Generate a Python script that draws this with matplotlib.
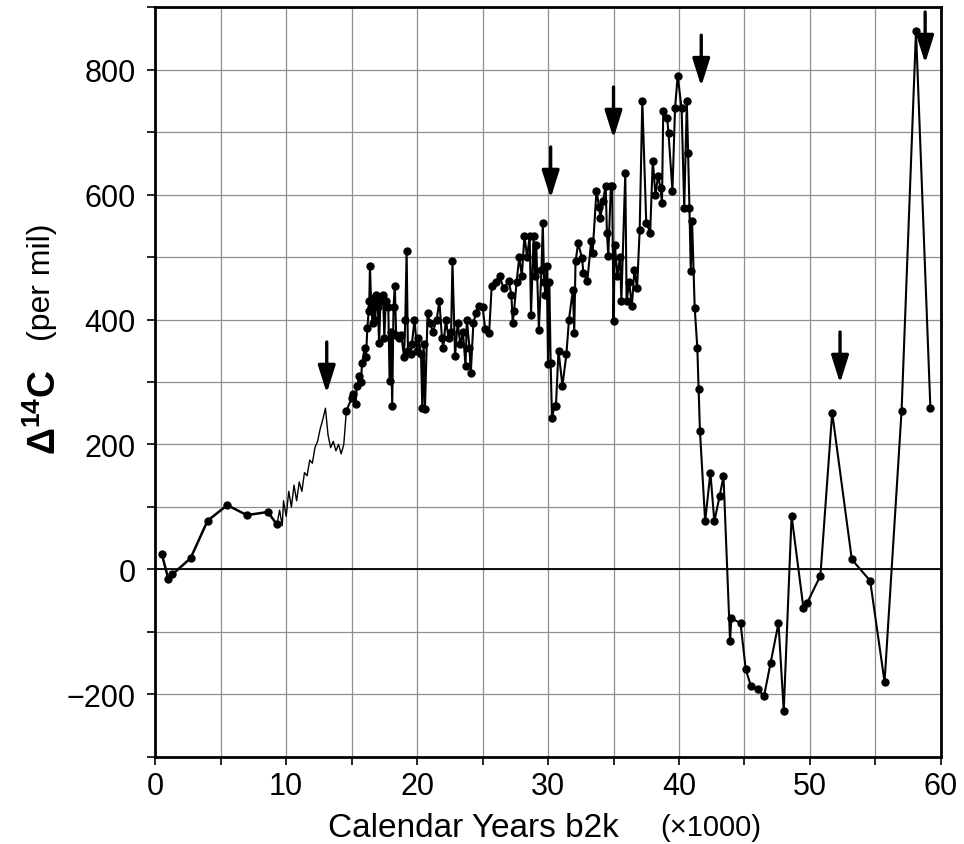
import matplotlib
matplotlib.use("Agg")
import matplotlib.pyplot as plt
from matplotlib.ticker import MultipleLocator

plt.rcParams['font.family'] = ['Liberation Sans', 'DejaVu Sans']
plt.rcParams['mathtext.fontset'] = 'custom'
plt.rcParams['mathtext.rm'] = 'Liberation Sans'
plt.rcParams['mathtext.bf'] = 'Liberation Sans:bold'

# holocene part, dots (x in kyr b2k, delta14C in per mil)
holo_age = [0.5, 1.0, 1.3, 2.7, 4.0, 5.5, 7.0, 8.6, 9.3]
holo_d14c = [25, -15, -8, 18, 78, 103, 87, 92, 72]

# tree-ring style thin curve, no markers
ring_age = [9.3, 9.5, 9.7, 9.8, 10.0, 10.2, 10.4, 10.6, 10.8, 11.0, 11.2, 11.4,
            11.6, 11.8, 12.0, 12.2, 12.4, 12.6, 12.8, 13.0, 13.2, 13.4, 13.6,
            13.8, 14.0, 14.2, 14.4, 14.6]
ring_d14c = [72, 95, 70, 110, 85, 125, 100, 135, 110, 140, 125, 155, 150, 175,
             170, 195, 205, 225, 240, 258, 215, 195, 205, 190, 200, 185, 200, 254]

# glacial part, dots
glac_age = [14.6, 15.0, 15.1, 15.3, 15.4, 15.6, 15.7, 15.8, 16.0, 16.1, 16.2,
            16.3, 16.35, 16.4, 16.5, 16.6, 16.7, 16.8, 16.9, 17.0, 17.1, 17.2,
            17.4, 17.5, 17.6, 17.8, 17.9, 18.0, 18.1, 18.2, 18.3, 18.4, 18.6,
            18.8, 19.0, 19.1, 19.2, 19.3, 19.5, 19.6, 19.8, 20.0, 20.1, 20.3,
            20.4, 20.5, 20.6, 20.8, 21.0, 21.2, 21.5, 21.7, 21.9, 22.0, 22.2,
            22.4, 22.6, 22.7, 22.9, 23.1, 23.3, 23.5, 23.7, 23.8, 24.0, 24.1,
            24.3, 24.5, 24.7, 25.0, 25.2, 25.5, 25.7, 26.0, 26.3, 26.6, 27.0,
            27.2, 27.3, 27.4, 27.6, 27.8, 28.0, 28.2, 28.4, 28.6, 28.7, 28.9,
            29.0, 29.1, 29.3, 29.5, 29.6, 29.7, 29.8, 29.9, 30.0, 30.1, 30.2,
            30.3, 30.5, 30.6, 30.8, 31.1, 31.4, 31.6, 31.9, 32.0, 32.1, 32.3,
            32.6, 32.7, 33.0, 33.3, 33.4, 33.7, 33.9, 34.0, 34.2, 34.4, 34.5,
            34.6, 34.8, 34.9, 35.0, 35.1, 35.3, 35.5, 35.6, 35.9, 36.0, 36.2,
            36.4, 36.6, 36.8, 37.0, 37.2, 37.5, 37.8, 38.0, 38.2, 38.4, 38.6,
            38.7, 38.8, 39.1, 39.2, 39.5, 39.7, 39.9, 40.2, 40.4, 40.6, 40.7,
            40.8, 40.9, 41.0, 41.2, 41.4, 41.5, 41.6, 42.0, 42.4, 42.7, 43.1,
            43.4, 43.9, 44.0, 44.7, 45.1, 45.5, 46.0, 46.5, 47.0, 47.6, 48.0,
            48.6, 49.5, 49.8, 50.8, 51.7, 53.2, 54.6, 55.7, 57.0, 58.1, 59.2]
glac_d14c = [254, 274, 280, 265, 293, 310, 300, 330, 355, 340, 386,
             413, 430, 485, 420, 395, 435, 400, 440, 420, 362, 430,
             440, 370, 430, 420, 301, 380, 262, 420, 453, 375, 370,
             375, 340, 400, 509, 350, 345, 360, 400, 350, 370, 345,
             258, 360, 256, 410, 395, 380, 400, 430, 370, 354, 400,
             370, 380, 493, 342, 395, 360, 380, 326, 400, 355, 314,
             395, 410, 422, 420, 385, 378, 454, 460, 470, 450, 461,
             440, 395, 413, 460, 500, 470, 534, 500, 534, 408, 534,
             470, 520, 384, 480, 554, 460, 440, 485, 328, 460, 330,
             242, 262, 261, 350, 294, 344, 400, 448, 378, 493, 522,
             498, 474, 462, 526, 506, 606, 580, 562, 590, 614, 538,
             502, 614, 614, 397, 520, 470, 500, 430, 635, 430, 460,
             421, 480, 450, 544, 750, 555, 539, 654, 600, 629, 610,
             586, 733, 722, 698, 606, 738, 790, 738, 578, 749, 666,
             578, 478, 557, 419, 355, 288, 222, 77, 155, 77, 117,
             149, -114, -78, -86, -160, -187, -192, -202, -149, -86, -226,
             86, -61, -53, -10, 251, 16, -18, -180, 254, 862, 258]

# arrows: x position and y of the arrow tip
arrow_age = [13.1, 30.2, 35.0, 41.7, 52.3, 58.8]
arrow_tip = [282, 594, 690, 773, 298, 810]

fig = plt.figure(figsize=(9.64, 8.45), dpi=100)
ax = fig.add_axes([0.161, 0.103, 0.815, 0.8875])

ax.plot(holo_age, holo_d14c, color='black', lw=1.8, marker='o', ms=5)
ax.plot(ring_age, ring_d14c, color='black', lw=1.0)
ax.plot(glac_age, glac_d14c, color='black', lw=1.5, marker='o', ms=5)
ax.axhline(0, color='black', lw=1.3, zorder=1)

for xa, ya in zip(arrow_age, arrow_tip):
    ax.annotate('', xy=(xa, ya), xytext=(xa, ya + 82),
                arrowprops=dict(arrowstyle='-|>,head_length=0.7,head_width=0.22',
                                color='black', lw=2.4, mutation_scale=24,
                                shrinkA=0, shrinkB=0))

ax.set_xlim(0, 60)
ax.set_ylim(-300, 900)
ax.xaxis.set_major_locator(MultipleLocator(10))
ax.xaxis.set_minor_locator(MultipleLocator(5))
ax.yaxis.set_major_locator(MultipleLocator(200))
ax.yaxis.set_minor_locator(MultipleLocator(100))
ax.grid(True, which='both', color='#8f8f8f', lw=0.9)
ax.set_axisbelow(True)
ax.tick_params(which='both', direction='out', length=6, width=1.2, labelsize=22)
ax.tick_params(axis='x', pad=4)
ax.tick_params(axis='y', pad=8)
for s in ax.spines.values():
    s.set_linewidth(2)

fig.text(0.491, 0.020, 'Calendar Years b2k', fontsize=24, ha='center', va='center')
fig.text(0.737, 0.020, '(×1000)', fontsize=21, ha='center', va='center')
fig.text(0.047, 0.512, r'$\mathbf{Δ^{14}C}$', fontsize=27, rotation=90,
         ha='center', va='center')
fig.text(0.044, 0.666, '(per mil)', fontsize=23, rotation=90,
         ha='center', va='center')

fig.savefig('out.png', dpi=100)
